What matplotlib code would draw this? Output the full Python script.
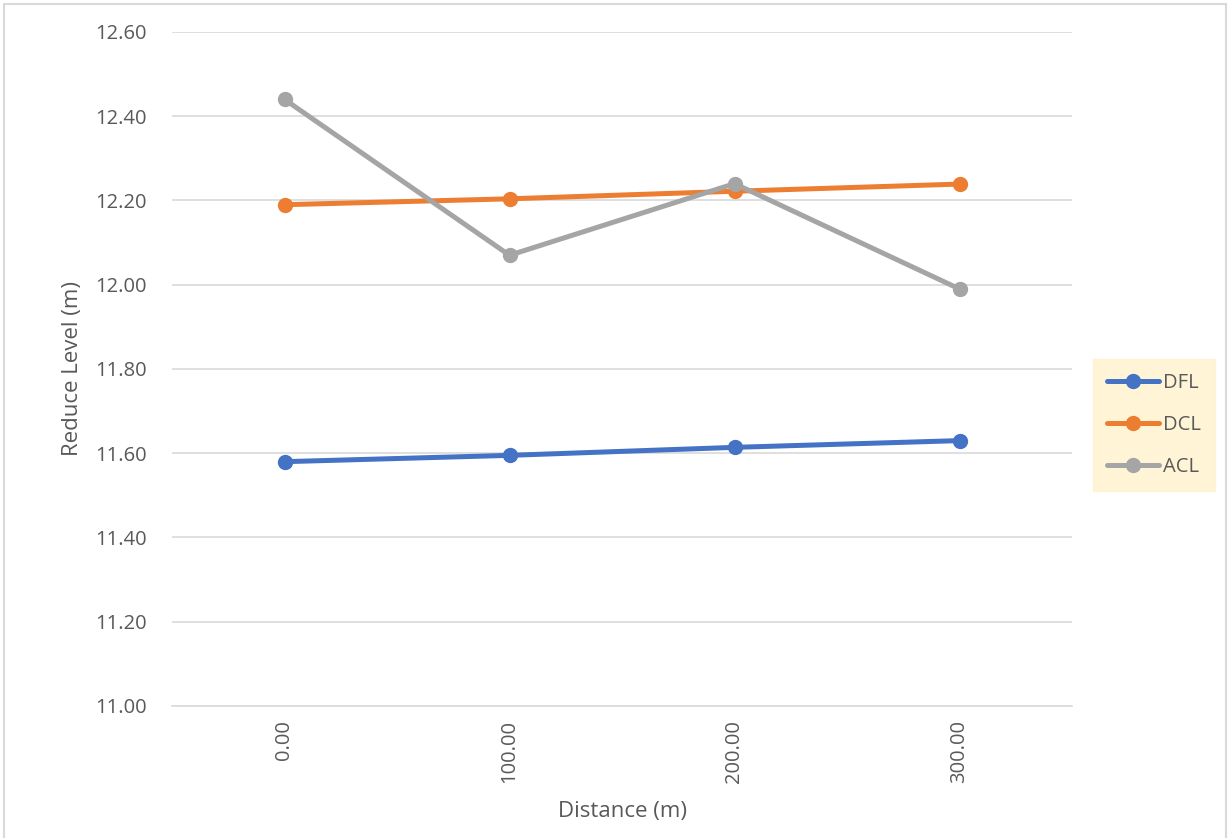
# reduce level profile chart

import numpy as np
import matplotlib.pyplot as plt
from matplotlib.patches import Rectangle

# data
distances = ['0.00', '100.00', '200.00', '300.00']
dfl = [11.58, 11.595, 11.614, 11.63]
dcl = [12.19, 12.204, 12.222, 12.239]
acl = [12.44, 12.07, 12.24, 11.99]
series_names = ['DFL', 'DCL', 'ACL']
series_colors = ['#4472C4', '#ED7D31', '#A5A5A5']
y_ticks = [11.00, 11.20, 11.40, 11.60, 11.80, 12.00, 12.20, 12.40, 12.60]

text_col = '#595959'
plt.rcParams['font.family'] = ['Open Sans', 'DejaVu Sans']

fig = plt.figure(figsize=[12.29, 8.38], dpi=100)
ax = fig.add_axes([172/1229, 1 - 706/838, 900/1229, 674/838])

# outer chart border (bottom runs off the image)
fig.patches.append(Rectangle((4/1229, -0.05), 1222/1229, 1 - 4/838 + 0.05,
                             transform=fig.transFigure, fill=False,
                             edgecolor='#D9D9D9', linewidth=1.5))

x = np.arange(len(distances))
handles = []
for vals, name, col in zip([dfl, dcl, acl], series_names, series_colors):
    h, = ax.plot(x, vals, color=col, linewidth=3.6, marker='o',
                 markersize=10, solid_capstyle='round', label=name, zorder=3)
    handles.append(h)

ax.set_xlim(-0.5, len(distances) - 0.5)
ax.set_ylim(11.0, 12.6)
ax.set_yticks(y_ticks)
ax.set_yticklabels(['%.2f' % v for v in y_ticks])
ax.set_xticks(x)
ax.set_xticklabels(distances, rotation=90)
ax.grid(axis='y', color='#D9D9D9', linewidth=1.2)
ax.set_axisbelow(True)
for side in ['top', 'right', 'left']:
    ax.spines[side].set_visible(False)
ax.spines['bottom'].set_color('#D9D9D9')
ax.spines['bottom'].set_linewidth(1.2)
ax.tick_params(length=0, labelsize=14.5, colors=text_col)
ax.tick_params(axis='y', pad=18)
ax.tick_params(axis='x', pad=10)

ax.set_ylabel('Reduce Level (m)', fontsize=16, color=text_col, labelpad=9)
ax.set_xlabel('Distance (m)', fontsize=16, color=text_col, labelpad=13)

leg = fig.legend(handles=handles, loc='center left',
                 bbox_to_anchor=(1093/1229, 1 - 425/838), frameon=True,
                 fontsize=14.5, labelcolor=text_col, handlelength=2.6,
                 handletextpad=0.2, labelspacing=1.1, borderpad=0.7,
                 fancybox=False, borderaxespad=0)
leg.get_frame().set_facecolor('#FFF2CC')
leg.get_frame().set_edgecolor('#FFF2CC')

plt.savefig('out.png', dpi=100)
